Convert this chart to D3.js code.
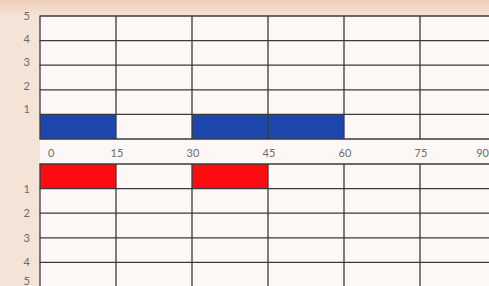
<!DOCTYPE html>
<html>
<head>
<meta charset="utf-8">
<script src="https://cdn.jsdelivr.net/npm/d3@7"></script>
<style>
  html, body { margin: 0; padding: 0; background: #f4e4d8; overflow: hidden; }
  svg { display: block; }
  .lbl { font-family: "Lato", "DejaVu Sans", sans-serif; font-size: 11px; fill: #6b6b6b; }
  .grid line { stroke: #3a3a3a; stroke-width: 1.3; }
</style>
</head>
<body>
<svg id="chart" width="489" height="286"></svg>
<script>
;(function() {
	"use strict";

	// data
	var xTicks = [0, 15, 30, 45, 60, 75, 90],
		levels = [0, 1, 2, 3, 4, 5],
		levelLabels = [1, 2, 3, 4, 5],
		blueBars = [ { start: 0, end: 15, value: 1 }, { start: 30, end: 60, value: 1 } ],
		redBars = [ { start: 0, end: 15, value: 1 }, { start: 30, end: 45, value: 1 } ];

	var width = 489, height = 286;
	var svg = d3.select("#chart");

	var x = d3.scaleLinear().domain([0, 90]).range([40, 496]),
		yTop = d3.scaleLinear().domain([0, 5]).range([139, 16]),
		yBot = d3.scaleLinear().domain([0, 5]).range([164, 287]);

	// paper background, peach strip on top
	var defs = svg.append("defs");
	var grad = defs.append("linearGradient").attr("id", "topfade")
		.attr("x1", 0).attr("y1", 0).attr("x2", 0).attr("y2", 1);
	grad.append("stop").attr("offset", "0%").attr("stop-color", "#efcfb6");
	grad.append("stop").attr("offset", "100%").attr("stop-color", "#f5e3d6");
	svg.append("rect").attr("width", width).attr("height", 16).attr("fill", "url(#topfade)");

	// chart area
	svg.append("rect")
		.attr("x", x(0)).attr("y", yTop(5))
		.attr("width", width - x(0)).attr("height", height - yTop(5))
		.attr("fill", "#fdf8f6");

	// bars
	svg.append("g").selectAll("rect").data(blueBars).join("rect")
		.attr("x", function(d) { return x(d.start); })
		.attr("y", function(d) { return yTop(d.value); })
		.attr("width", function(d) { return x(d.end) - x(d.start); })
		.attr("height", function(d) { return yTop(0) - yTop(d.value); })
		.attr("fill", "#1d47ad");

	svg.append("g").selectAll("rect").data(redBars).join("rect")
		.attr("x", function(d) { return x(d.start); })
		.attr("y", yBot(0))
		.attr("width", function(d) { return x(d.end) - x(d.start); })
		.attr("height", function(d) { return yBot(d.value) - yBot(0); })
		.attr("fill", "#fe0b12");

	// grid
	var grid = svg.append("g").attr("class", "grid");
	[yTop, yBot].forEach(function(y) {
		grid.append("g").selectAll("line").data(levels).join("line")
			.attr("x1", x(0) - 0.5).attr("x2", width)
			.attr("y1", function(d) { return y(d); })
			.attr("y2", function(d) { return y(d); });
		grid.append("g").selectAll("line").data(xTicks).join("line")
			.attr("x1", function(d) { return x(d); })
			.attr("x2", function(d) { return x(d); })
			.attr("y1", y(0)).attr("y2", y(5));
	});

	// left labels
	svg.append("g").selectAll("text").data(levelLabels).join("text")
		.attr("class", "lbl")
		.attr("text-anchor", "end")
		.attr("x", 30)
		.attr("y", function(d) { return yTop(d) + 4 - (d === 5 ? 0 : 6 - d); })
		.text(function(d) { return d; });

	svg.append("g").selectAll("text").data(levelLabels).join("text")
		.attr("class", "lbl")
		.attr("text-anchor", "end")
		.attr("x", 30)
		.attr("y", function(d) { return Math.min(yBot(d) + 4, height - 1); })
		.text(function(d) { return d; });

	// middle row x labels
	svg.append("g").selectAll("text").data(xTicks).join("text")
		.attr("class", "lbl")
		.attr("text-anchor", function(d) { return d === 0 ? "start" : d === 90 ? "end" : "middle"; })
		.attr("x", function(d) {
			if (d === 0) return x(d) + 8;
			if (d === 90) return width;
			return x(d) + 1;
		})
		.attr("y", (yTop(0) + yBot(0)) / 2 + 5)
		.text(function(d) { return d; });
})();
</script>
</body>
</html>
